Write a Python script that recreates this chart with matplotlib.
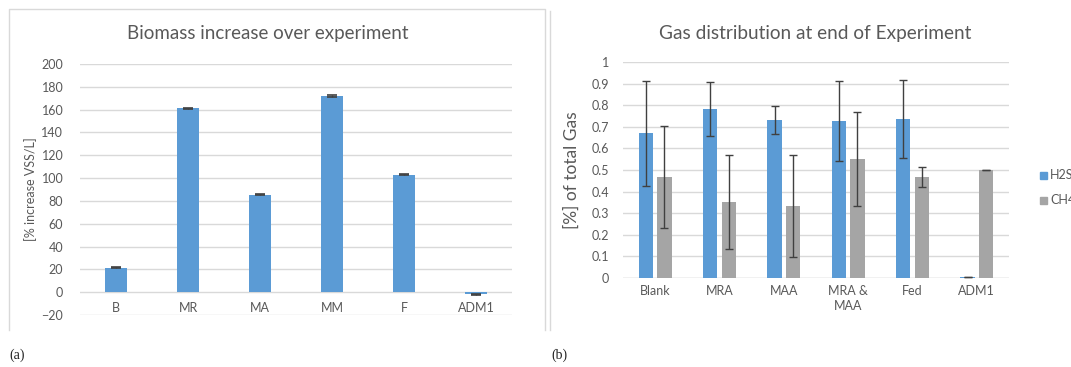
import matplotlib
matplotlib.use("Agg")
import matplotlib.pyplot as plt
from matplotlib.lines import Line2D
from matplotlib.patches import Rectangle
import numpy as np

# Biomass data
biomass_labels = ["B", "MR", "MA", "MM", "F", "ADM1"]
biomass_values = [21.5, 161, 85.5, 172, 103, -2]
biomass_err = [0.5, 0.5, 0.6, 0.5, 0.6, 0.3]

# Gas distribution data
gas_labels = ["Blank", "MRA", "MAA", "MRA &\nMAA", "Fed", "ADM1"]
h2s_values = [0.67, 0.782, 0.732, 0.726, 0.736, 0.005]
h2s_err = [0.242, 0.124, 0.065, 0.185, 0.179, 0.0]
ch4_values = [0.466, 0.352, 0.332, 0.550, 0.466, 0.498]
ch4_err = [0.236, 0.218, 0.236, 0.218, 0.047, 0.0]

W, H = 1071, 367
BLUE = "#5B9BD5"
GRAY = "#A5A5A5"
TXT = "#595959"
GRID = "#D9D9D9"
ERR = "#404040"
FONT = ["Lato", "DejaVu Sans"]

plt.rcParams["font.family"] = FONT

fig = plt.figure(figsize=(W / 100, H / 100), dpi=100)


def box(x0, x1, ytop, ybot):
    return [x0 / W, 1 - ybot / H, (x1 - x0) / W, (ybot - ytop) / H]


def fline(xs, ys):
    fig.add_artist(Line2D([x / W for x in xs], [1 - y / H for y in ys],
                          transform=fig.transFigure, color=GRID, lw=1.0))


# Chart area frames
fline([9, 9, 545, 545], [330, 9, 9, 330])
fline([550, 550], [330, 11])


def style(ax):
    for s in ax.spines.values():
        s.set_visible(False)
    ax.tick_params(axis="both", length=0, colors=TXT, labelsize=9)
    ax.grid(axis="y", color=GRID, lw=1.0)
    ax.set_axisbelow(True)


# (a) Biomass increase
ax1 = fig.add_axes(box(80, 512, 64, 315))
x = np.arange(len(biomass_labels))
ax1.bar(x, biomass_values, width=0.31, color=BLUE, zorder=2)
ax1.errorbar(x, biomass_values, yerr=biomass_err, fmt="none", ecolor=ERR,
             elinewidth=1, capsize=3.5, capthick=1.2, zorder=3)
ax1.set_xlim(-0.5, len(x) - 0.5)
ax1.set_ylim(-20, 200)
ax1.set_yticks(np.arange(-20, 201, 20))
ax1.set_xticks([])
style(ax1)
ax1.tick_params(axis="y", pad=12)
for xi, lab in zip(x, biomass_labels):
    ax1.text(xi, -14, lab, ha="center", va="center", color=TXT, fontsize=9)
ax1.set_ylabel("[% increase VSS/L]", color=TXT, fontsize=9)
ax1.yaxis.set_label_coords((37 - 80) / 432, 0.5)
fig.text(268 / W, 1 - 33 / H, "Biomass increase over experiment", ha="center",
         va="center", color=TXT, fontsize=13.5)

# (b) Gas distribution
ax2 = fig.add_axes(box(623, 1009, 62, 278))
g = np.arange(len(gas_labels))
bw = 0.225
off = 0.145
ax2.bar(g - off, h2s_values, width=bw, color=BLUE, zorder=2, label="H2S")
ax2.bar(g + off, ch4_values, width=bw, color=GRAY, zorder=2, label="CH4")
ax2.errorbar(g - off, h2s_values, yerr=h2s_err, fmt="none", ecolor=ERR,
             elinewidth=1, capsize=3, capthick=1, zorder=3)
ax2.errorbar(g + off, ch4_values, yerr=ch4_err, fmt="none", ecolor=ERR,
             elinewidth=1, capsize=3, capthick=1, zorder=3)
ax2.set_xlim(-0.5, len(g) - 0.5)
ax2.set_ylim(0, 1)
ticks = np.round(np.arange(0, 1.01, 0.1), 1)
ax2.set_yticks(ticks)
ax2.set_yticklabels([f"{v:g}" for v in ticks])
ax2.set_xticks(g)
ax2.set_xticklabels(gas_labels, linespacing=1.3)
style(ax2)
ax2.axhline(0, color=GRID, lw=1.0, zorder=1)
ax2.tick_params(axis="x", pad=5)
ax2.tick_params(axis="y", pad=10)
ax2.set_ylabel("[%] of total Gas", color=TXT, fontsize=12.5)
ax2.yaxis.set_label_coords((580 - 623) / 386, 0.5)
fig.text(815 / W, 1 - 33 / H, "Gas distribution at end of Experiment",
         ha="center", va="center", color=TXT, fontsize=13.7)

# Legend entries (run past the right edge of the figure)
for yy, col, lab in [(175, BLUE, "H2S"), (200, GRAY, "CH4")]:
    fig.add_artist(Rectangle((1040 / W, 1 - (yy + 3.5) / H), 7 / W, 7 / H,
                             transform=fig.transFigure, color=col))
    fig.text(1050 / W, 1 - yy / H, lab, ha="left", va="center", color=TXT,
             fontsize=9)

# Sub-figure captions
fig.text(9 / W, 1 - 355 / H, "(a)", ha="left", va="center", fontsize=10,
         family="Liberation Serif", color="#222222")
fig.text(551 / W, 1 - 355 / H, "(b)", ha="left", va="center", fontsize=10,
         family="Liberation Serif", color="#222222")

fig.savefig("out.png", dpi=100, facecolor="white")
